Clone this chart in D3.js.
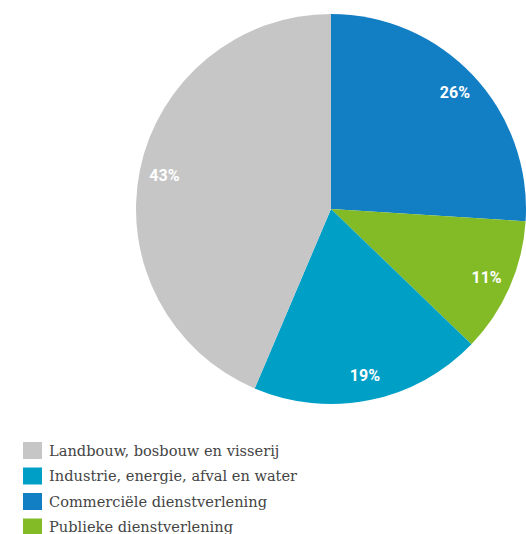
<!DOCTYPE html>
<meta charset="utf-8">
<script src="https://d3js.org/d3.v7.min.js"></script>
<style>
  body { margin: 0; background: #fff; }
  .legend text { font-family: "DejaVu Serif", serif; font-size: 14.6px; fill: #444; }
  .pct { font-family: Roboto, "Open Sans", sans-serif; font-weight: bold; font-size: 16px; fill: #fff; }
</style>
<div id="chart"></div>
<script>
// sectors, clockwise from 12 o'clock
var sectors = ["Commerciële dienstverlening", "Publieke dienstverlening", "Industrie, energie, afval en water", "Landbouw, bosbouw en visserij"];
var shares = [26.0, 11.2, 19.2, 43.6];
var labels = ["26%", "11%", "19%", "43%"];
var colors = ["#127ec4", "#83bb27", "#00a0c6", "#c6c6c6"];
// legend order as in the picture
var legendOrder = ["Landbouw, bosbouw en visserij", "Industrie, energie, afval en water", "Commerciële dienstverlening", "Publieke dienstverlening"];

var width = 526, height = 534;
var cx = 331, cy = 209, radius = 195;

var svg = d3.select("#chart").append("svg")
    .attr("width", width)
    .attr("height", height);

var color = d3.scaleOrdinal().domain(sectors).range(colors);

var pie = d3.pie().sort(null).value(function(d) { return d.v; });
var data = pie(sectors.map(function(s, i) { return {name: s, v: shares[i], label: labels[i]}; }));

var arc = d3.arc().innerRadius(0).outerRadius(radius);
var labelArc = d3.arc().innerRadius(170).outerRadius(170);

var g = svg.append("g").attr("transform", "translate(" + cx + "," + cy + ")");

g.selectAll("path")
    .data(data)
    .enter()
    .append("path")
    .attr("d", arc)
    .attr("fill", function(d) { return color(d.data.name); });

g.selectAll(".pct")
    .data(data)
    .enter()
    .append("text")
    .attr("class", "pct")
    .attr("transform", function(d) { return "translate(" + labelArc.centroid(d) + ")"; })
    .attr("text-anchor", "middle")
    .attr("dy", "0.35em")
    .text(function(d) { return d.data.label; });

// legend
var legend = svg.append("g")
    .attr("class", "legend")
    .selectAll("g")
    .data(legendOrder)
    .enter()
    .append("g")
    .attr("transform", function(d, i) { return "translate(23," + (442 + i * 25.5) + ")"; });

legend.append("rect")
    .attr("width", 19)
    .attr("height", 17)
    .attr("fill", function(d) { return color(d); });

legend.append("text")
    .attr("x", 26)
    .attr("y", 13.5)
    .text(function(d) { return d; });
</script>
